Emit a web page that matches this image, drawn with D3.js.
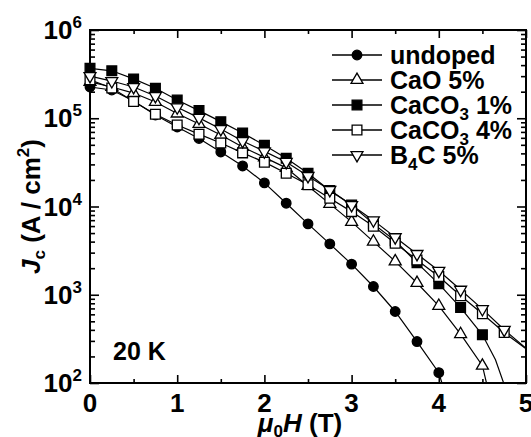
<!DOCTYPE html>
<html>
<head>
<meta charset="utf-8">
<script src="https://cdn.jsdelivr.net/npm/d3@7"></script>
<style>
  body { margin: 0; background: #fff; }
  text { font-family: "Liberation Sans", Arial, sans-serif; font-weight: bold; fill: #000; }
</style>
</head>
<body>
<div id="chart"></div>
<script>
// field values (T), one marker every 0.25 T
var field = [0, 0.25, 0.5, 0.75, 1, 1.25, 1.5, 1.75, 2, 2.25, 2.5, 2.75, 3, 3.25, 3.5, 3.75, 4, 4.25, 4.5, 4.75];

// Jc (A/cm2)
var undoped = [2.26e5, 2.09e5, 1.57e5, 1.09e5, 7.97e4, 5.9e4, 4.15e4, 2.88e4, 1.85e4, 1.09e4, 6.35e3, 3.77e3, 2.22e3, 1.24e3, 646, 295, 131];
var cao5 = [2.58e5, 2.26e5, 1.93e5, 1.53e5, 1.13e5, 8.62e4, 6.47e4, 4.73e4, 3.6e4, 2.74e4, 1.71e4, 1.07e4, 6.7e3, 4.0e3, 2.39e3, 1.36e3, 748, 358, 157];
var caco3_1 = [3.68e5, 3.45e5, 2.79e5, 2.19e5, 1.61e5, 1.22e5, 9.15e4, 6.82e4, 4.94e4, 3.52e4, 2.38e4, 1.52e4, 1.04e4, 6.35e3, 4.1e3, 2.3e3, 1.33e3, 716, 352];
var caco3_4 = [2.72e5, 2.2e5, 1.55e5, 1.11e5, 8.4e4, 6.6e4, 5.25e4, 4.05e4, 3.18e4, 2.38e4, 1.76e4, 1.24e4, 8.75e3, 5.98e3, 3.84e3, 2.48e3, 1.61e3, 973, 608, 373];
var b4c5 = [3.01e5, 2.64e5, 2.26e5, 1.79e5, 1.33e5, 1.01e5, 7.56e4, 5.53e4, 4.21e4, 3.2e4, 2.22e4, 1.54e4, 1.04e4, 6.96e3, 4.49e3, 2.9e3, 1.87e3, 1.14e3, 687, 401];

// curve ends past the last marker (no marker drawn)
var undopedTail = [[4.05, 90]];
var cao5Tail = [[4.57, 80]];
var caco3_1Tail = [[4.65, 183], [4.78, 79]];
var caco3_4Tail = [[5.0, 244]];
var b4c5Tail = [[5.0, 248]];

var names = ["undoped", "CaO 5%", "CaCO3 1%", "CaCO3 4%", "B4C 5%"];
var xTicks = [0, 1, 2, 3, 4, 5];
var xMinor = [0.5, 1.5, 2.5, 3.5, 4.5];
var yDecades = [1e2, 1e3, 1e4, 1e5, 1e6];

var W = 531, H = 437;
var margin = { top: 30, right: 5, bottom: 54, left: 90 };
var width = 526 - margin.left, height = 383 - margin.top;

var svg = d3.select("#chart").append("svg")
  .attr("width", W)
  .attr("height", H);

var g = svg.append("g")
  .attr("transform", "translate(" + margin.left + "," + margin.top + ")");

var x = d3.scaleLinear().domain([0, 5]).range([0, width]);
var y = d3.scaleLog().domain([1e2, 1e6]).range([height, 0]);

// minor log ticks 2..9 each decade
var yMinor = [];
yDecades.slice(0, -1).forEach(function (d) {
  for (var k = 2; k <= 9; k++) yMinor.push(d * k);
});

function tickStyle(sel) {
  sel.select(".domain").remove();
  sel.selectAll("line").attr("stroke", "#000").attr("stroke-width", 1.6);
}

// inward ticks on all four sides
g.append("g").attr("transform", "translate(0," + height + ")")
  .call(d3.axisBottom(x).tickValues(xTicks).tickSize(-8).tickFormat("")).call(tickStyle);
g.append("g").attr("transform", "translate(0," + height + ")")
  .call(d3.axisBottom(x).tickValues(xMinor).tickSize(-4).tickFormat("")).call(tickStyle);
g.append("g")
  .call(d3.axisTop(x).tickValues(xTicks).tickSize(-8).tickFormat("")).call(tickStyle);
g.append("g")
  .call(d3.axisTop(x).tickValues(xMinor).tickSize(-4).tickFormat("")).call(tickStyle);
g.append("g")
  .call(d3.axisLeft(y).tickValues(yDecades).tickSize(-9).tickFormat("")).call(tickStyle);
g.append("g")
  .call(d3.axisLeft(y).tickValues(yMinor).tickSize(-5).tickFormat("")).call(tickStyle);
g.append("g").attr("transform", "translate(" + width + ",0)")
  .call(d3.axisRight(y).tickValues(yDecades).tickSize(-9).tickFormat("")).call(tickStyle);
g.append("g").attr("transform", "translate(" + width + ",0)")
  .call(d3.axisRight(y).tickValues(yMinor).tickSize(-5).tickFormat("")).call(tickStyle);

// frame
g.append("rect")
  .attr("width", width).attr("height", height)
  .attr("fill", "none").attr("stroke", "#000").attr("stroke-width", 2);

// tick labels
g.selectAll(".xlab").data(xTicks).enter().append("text")
  .attr("class", "xlab")
  .attr("x", function (d) { return x(d); })
  .attr("y", height + 29)
  .attr("text-anchor", "middle")
  .style("font-size", "26px")
  .text(function (d) { return d; });

var ylab = g.selectAll(".ylab").data(yDecades).enter().append("text")
  .attr("class", "ylab")
  .attr("x", -8)
  .attr("y", function (d) { return y(d) + 9; })
  .attr("text-anchor", "end")
  .style("font-size", "26px");
ylab.append("tspan").text("10");
ylab.append("tspan").attr("dy", -11).style("font-size", "17px")
  .text(function (d) { return Math.round(Math.log10(d)); });

// axis titles
var xt = svg.append("text")
  .attr("x", 300).attr("y", 432)
  .attr("text-anchor", "middle")
  .style("font-size", "26px");
xt.append("tspan").style("font-style", "italic").text("\u03bc");
xt.append("tspan").attr("dy", 5).style("font-size", "17px").text("0");
xt.append("tspan").attr("dy", -5).style("font-style", "italic").text("H");
xt.append("tspan").text(" (T)");

var yt = svg.append("text")
  .attr("transform", "translate(40," + (margin.top + height / 2) + ") rotate(-90)")
  .attr("text-anchor", "middle")
  .style("font-size", "26px");
yt.append("tspan").style("font-style", "italic").text("J");
yt.append("tspan").attr("dy", 5).style("font-size", "17px").text("c");
yt.append("tspan").attr("dy", -5).text(" (A / cm");
yt.append("tspan").attr("dy", -11).style("font-size", "17px").text("2");
yt.append("tspan").attr("dy", 11).text(")");

svg.append("text")
  .attr("x", 113).attr("y", 360)
  .style("font-size", "25px")
  .text("20 K");

// series
var series = [
  { name: names[0], vals: undoped, tail: undopedTail, sym: d3.symbolCircle, size: 72, fill: "#000", rot: 0 },
  { name: names[1], vals: cao5, tail: cao5Tail, sym: d3.symbolTriangle, size: 62, fill: "#fff", rot: 0 },
  { name: names[2], vals: caco3_1, tail: caco3_1Tail, sym: d3.symbolSquare, size: 95, fill: "#000", rot: 0 },
  { name: names[3], vals: caco3_4, tail: caco3_4Tail, sym: d3.symbolSquare, size: 95, fill: "#fff", rot: 0 },
  { name: names[4], vals: b4c5, tail: b4c5Tail, sym: d3.symbolTriangle, size: 62, fill: "#fff", rot: 180 }
];

svg.append("defs").append("clipPath").attr("id", "clip")
  .append("rect").attr("width", width).attr("height", height);

var line = d3.line()
  .x(function (d) { return x(d[0]); })
  .y(function (d) { return y(d[1]); });

var plot = g.append("g").attr("clip-path", "url(#clip)");

series.forEach(function (s) {
  var pts = s.vals.map(function (v, i) { return [field[i], v]; });
  plot.append("path")
    .datum(pts.concat(s.tail))
    .attr("d", line)
    .attr("fill", "none")
    .attr("stroke", "#000")
    .attr("stroke-width", 1.2);
});

series.forEach(function (s) {
  var pts = s.vals.map(function (v, i) { return [field[i], v]; });
  g.selectAll(null).data(pts).enter().append("path")
    .attr("d", d3.symbol().type(s.sym).size(s.size))
    .attr("transform", function (d) {
      return "translate(" + x(d[0]) + "," + y(d[1]) + ") rotate(" + s.rot + ")";
    })
    .attr("fill", s.fill)
    .attr("stroke", "#000")
    .attr("stroke-width", 1.3);
});

// legend
var legend = svg.append("g");
series.forEach(function (s, i) {
  var cy = 55 + i * 25;
  legend.append("line")
    .attr("x1", 332).attr("x2", 382).attr("y1", cy).attr("y2", cy)
    .attr("stroke", "#000").attr("stroke-width", 1.5);
  legend.append("path")
    .attr("d", d3.symbol().type(s.sym).size(s.size))
    .attr("transform", "translate(357," + cy + ") rotate(" + s.rot + ")")
    .attr("fill", s.fill).attr("stroke", "#000").attr("stroke-width", 1.3);
  var t = legend.append("text")
    .attr("x", 390).attr("y", cy + 9)
    .style("font-size", "25px");
  // digit right after an element symbol is a subscript
  var m = s.name.match(/^([A-Za-z]+?)(\d)(.*)$/);
  if (m && s.name !== "undoped") {
    t.append("tspan").text(m[1]);
    t.append("tspan").attr("dy", 6).style("font-size", "17px").text(m[2]);
    t.append("tspan").attr("dy", -6).text(m[3]);
  } else {
    t.text(s.name);
  }
});
</script>
</body>
</html>
